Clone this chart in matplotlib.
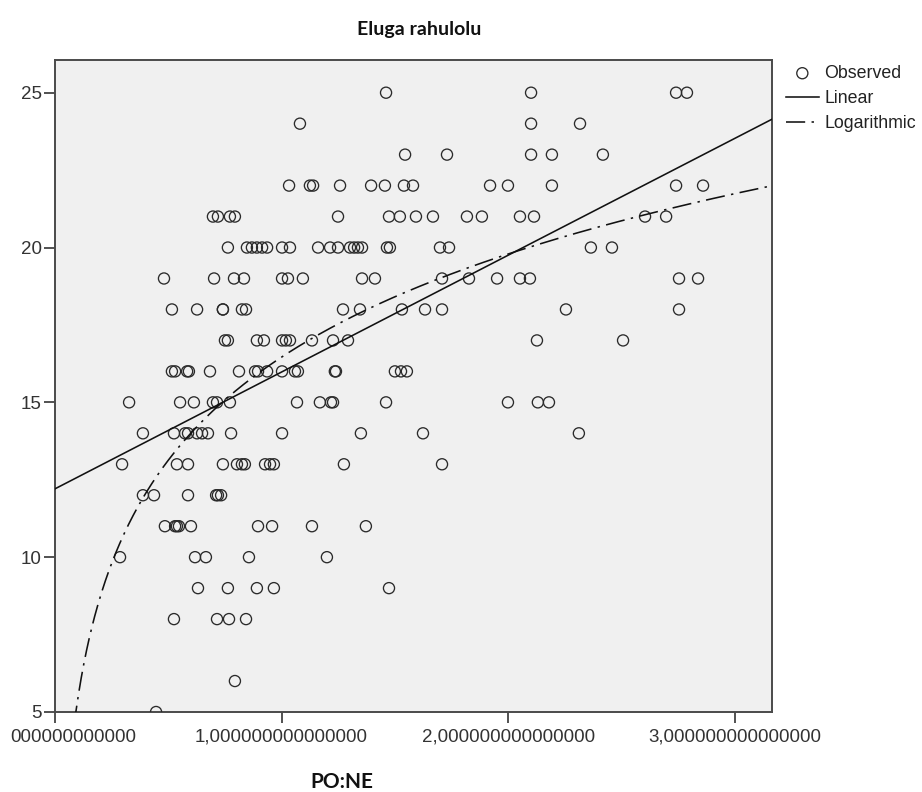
import numpy as np
import matplotlib
matplotlib.use("Agg")
import matplotlib.pyplot as plt
from matplotlib.transforms import ScaledTranslation

# ---- data ----
y25 = [1.461, 2.101, 2.741, 2.789]
y24 = [1.081, 2.101, 2.317]
y23 = [1.545, 1.730, 2.101, 2.193, 2.418]
y22 = [1.033, 1.125, 1.139, 1.258, 1.395, 1.456, 1.540, 1.580, 1.920, 1.999, 2.193, 2.741, 2.860]
y21 = [0.697, 0.719, 0.772, 0.794, 1.249, 1.474, 1.522, 1.593, 1.668, 1.818, 1.884, 2.052, 2.114, 2.604, 2.697]
y20 = [0.763, 0.847, 0.869, 0.891, 0.914, 0.936, 1.002, 1.037, 1.161, 1.214, 1.249, 1.302, 1.320, 1.337,
       1.355, 1.465, 1.478, 1.699, 1.739, 2.365, 2.458]
y19 = [0.481, 0.702, 0.790, 0.834, 1.002, 1.028, 1.094, 1.355, 1.412, 1.708, 1.827, 1.951, 2.052, 2.096,
       2.754, 2.838]
y18 = [0.516, 0.627, 0.741, 0.741, 0.825, 0.843, 1.271, 1.346, 1.531, 1.633, 1.708, 2.255, 2.754]
y17 = [0.750, 0.763, 0.891, 0.922, 1.002, 1.019, 1.037, 1.134, 1.227, 1.293, 2.127, 2.507]
y16 = [0.516, 0.530, 0.583, 0.591, 0.684, 0.812, 0.883, 0.896, 0.936, 1.002, 1.059, 1.072, 1.235, 1.240,
       1.500, 1.527, 1.553]
y15 = [0.327, 0.552, 0.613, 0.697, 0.715, 0.772, 1.068, 1.169, 1.218, 1.227, 1.461, 1.999, 2.131, 2.180]
y14 = [0.388, 0.525, 0.574, 0.587, 0.627, 0.649, 0.675, 0.777, 1.002, 1.350, 1.624, 2.312]
y13 = [0.296, 0.538, 0.587, 0.741, 0.803, 0.825, 0.838, 0.927, 0.949, 0.966, 1.275, 1.708]
y12 = [0.388, 0.437, 0.587, 0.711, 0.719, 0.733]
y11 = [0.485, 0.530, 0.538, 0.547, 0.600, 0.896, 0.958, 1.134, 1.372]
y10 = [0.287, 0.618, 0.666, 0.856, 1.200]
y9 = [0.631, 0.763, 0.891, 0.966, 1.474]
y8 = [0.525, 0.715, 0.768, 0.843]
y6 = [0.794]
y5 = [0.446]

rows = {25: y25, 24: y24, 23: y23, 22: y22, 21: y21, 20: y20, 19: y19, 18: y18, 17: y17,
        16: y16, 15: y15, 14: y14, 13: y13, 12: y12, 11: y11, 10: y10, 9: y9, 8: y8, 6: y6, 5: y5}

x_ticks = [0, 1, 2, 3]
x_tick_labels = ["000000000000", "1,000000000000000", "2,000000000000000", "3,000000000000000"]
y_ticks = [5, 10, 15, 20, 25]
y_tick_labels = ["5", "10", "15", "20", "25"]

x_obs = np.array([x for yv, xs in rows.items() for x in xs])
y_obs = np.array([yv for yv, xs in rows.items() for x in xs], dtype=float)

# ---- fits computed from the observed points ----
lin_b, lin_a = np.polyfit(x_obs, y_obs, 1)
log_b, log_a = np.polyfit(np.log(x_obs), y_obs, 1)

XMAX = 3.163
YMIN, YMAX = 5, 26.056

fig = plt.figure(figsize=(9.22, 7.92), dpi=100)
ax = fig.add_axes([55/922, 1-712/792, (771.7-55)/922, (712-60)/792])
ax.set_facecolor("#F0F0F0")

xs_lin = np.linspace(0, XMAX, 200)
xs_log = np.linspace(0.005, XMAX, 800)

ax.scatter(x_obs, y_obs, s=64, facecolors="none", edgecolors="#2a2a2a", linewidths=0.95,
           label="Observed", zorder=3)
ax.plot(xs_lin, lin_a + lin_b * xs_lin, color="#111111", lw=1.15, label="Linear", zorder=4)
ax.plot(xs_log, log_a + log_b * np.log(xs_log), color="#111111", lw=1.15,
        linestyle=(0, (12, 4, 1.5, 4)), label="Logarithmic", zorder=4)

ax.set_xlim(0, XMAX)
ax.set_ylim(YMIN, YMAX)
ax.set_xticks(x_ticks)
ax.set_xticklabels(x_tick_labels)
ax.set_yticks(y_ticks)
ax.set_yticklabels(y_tick_labels)

for sp in ax.spines.values():
    sp.set_color("#4a4a4a")
    sp.set_linewidth(1.4)

ax.tick_params(axis="both", length=8, width=1.2, color="#333333", labelcolor="#333333",
               labelsize=13.5)
ax.tick_params(axis="x", pad=4)
ax.tick_params(axis="y", pad=1.5)
for lbl in ax.get_xticklabels() + ax.get_yticklabels():
    lbl.set_fontfamily("Liberation Sans")

# first x label in the reference is clipped at the left edge; shift it right
first = ax.get_xticklabels()[0]
first.set_transform(first.get_transform() + ScaledTranslation(0.18, 0, fig.dpi_scale_trans))

fig.text(419.5/922, 1-35/792, "Eluga rahulolu", ha="center", va="baseline",
         fontsize=14, fontweight="bold", family="Lato", color="#111111")
fig.text(341.5/922, 1-788.5/792, "PO:NE", ha="center", va="baseline",
         fontsize=15, fontweight="bold", family="Lato", color="#111111")

leg = ax.legend(loc="upper left", bbox_to_anchor=(777/922, 1-56/792),
                bbox_transform=fig.transFigure, frameon=False, borderpad=0,
                handlelength=1.85, handletextpad=0.3, labelspacing=0.45,
                prop={"family": "Liberation Sans", "size": 12.8})
for t in leg.get_texts():
    t.set_color("#222222")

fig.savefig("out.png", dpi=100)
